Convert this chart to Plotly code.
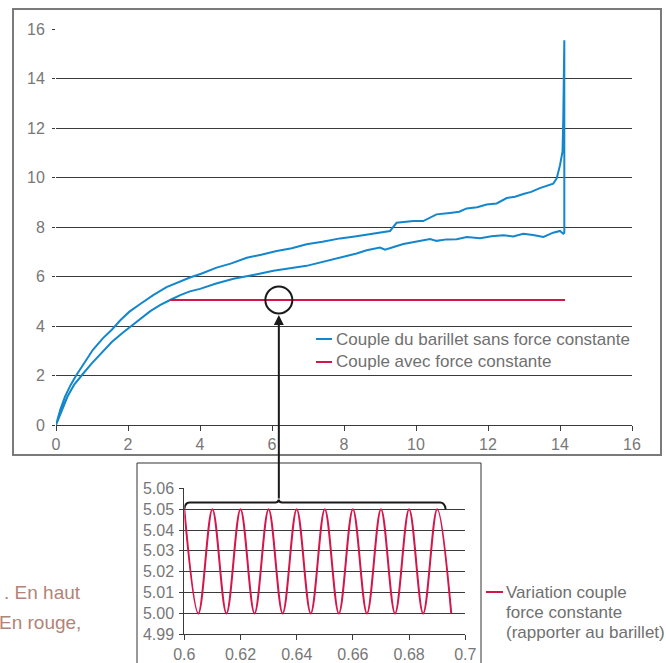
import plotly.graph_objects as go

W, H = 666, 663

# ---------------- data ----------------
upper_x = [0, 0.12, 0.25, 0.40, 0.56, 0.78, 1.02, 1.30, 1.55, 1.80, 2.04, 2.35, 2.70, 3.07, 3.40, 3.72,
           4.05, 4.46, 4.85, 5.30, 5.70, 6.13, 6.55, 6.96, 7.40, 7.89, 8.30, 8.72, 9.00, 9.28, 9.46,
           9.70, 9.93, 10.20, 10.57, 10.94, 11.20, 11.41, 11.70, 11.96, 12.24, 12.52, 12.75, 12.98,
           13.20, 13.44, 13.65, 13.81, 13.91, 14.00, 14.07, 14.09]
upper_y = [0, 0.62, 1.15, 1.60, 2.00, 2.50, 3.03, 3.50, 3.85, 4.25, 4.58, 4.90, 5.25, 5.57, 5.78, 5.96,
           6.12, 6.36, 6.52, 6.76, 6.88, 7.03, 7.14, 7.30, 7.40, 7.54, 7.62, 7.71, 7.76, 7.84, 8.17,
           8.20, 8.24, 8.24, 8.51, 8.57, 8.62, 8.75, 8.80, 8.91, 8.95, 9.17, 9.22, 9.33, 9.42, 9.57,
           9.66, 9.75, 9.97, 10.50, 11.04, 12.30]

spike_x = [14.12, 14.12]
spike_y = [15.55, 7.77]

lower_x = [0, 0.15, 0.32, 0.50, 0.71, 1.00, 1.25, 1.55, 1.87, 2.08, 2.35, 2.62, 2.90, 3.17, 3.45, 3.72,
           4.00, 4.45, 4.93, 5.11, 5.55, 6.04, 6.50, 6.96, 7.43, 7.75, 8.07, 8.35, 8.63, 9.00, 9.14,
           9.40, 9.65, 10.00, 10.39, 10.57, 10.85, 11.13, 11.41, 11.78, 12.10, 12.43, 12.70, 12.98,
           13.25, 13.54, 13.81, 14.00, 14.09]
lower_y = [0, 0.55, 1.15, 1.62, 2.00, 2.50, 2.90, 3.35, 3.75, 4.00, 4.30, 4.60, 4.85, 5.05, 5.25, 5.40,
           5.50, 5.72, 5.91, 5.96, 6.08, 6.23, 6.33, 6.43, 6.59, 6.70, 6.83, 6.93, 7.06, 7.17, 7.08,
           7.20, 7.31, 7.40, 7.51, 7.44, 7.50, 7.51, 7.60, 7.55, 7.63, 7.67, 7.62, 7.73, 7.68,
           7.60, 7.77, 7.84, 7.73]

const_x = [3.17, 14.14]
const_y = [5.05, 5.05]

inset_x = [0.600, 0.605, 0.610, 0.615, 0.620, 0.625, 0.630, 0.635, 0.640, 0.645,
           0.650, 0.655, 0.660, 0.665, 0.670, 0.675, 0.680, 0.685, 0.690, 0.695]
inset_y = [5.05, 5.00, 5.05, 5.00, 5.05, 5.00, 5.05, 5.00, 5.05, 5.00,
           5.05, 5.00, 5.05, 5.00, 5.05, 5.00, 5.05, 5.00, 5.05, 5.00]

main_ticks = [0, 2, 4, 6, 8, 10, 12, 14, 16]
inset_xticks = [0.6, 0.62, 0.64, 0.66, 0.68, 0.7]
inset_xticklabels = ["0.6", "0.62", "0.64", "0.66", "0.68", "0.7"]
inset_yticks = [4.99, 5.00, 5.01, 5.02, 5.03, 5.04, 5.05, 5.06]
inset_yticklabels = ["4.99", "5.00", "5.01", "5.02", "5.03", "5.04", "5.05", "5.06"]

legend_main = ["Couple du barillet sans force constante", "Couple avec force constante"]
legend_inset = ["Variation couple", "force constante", "(rapporter au barillet)"]
caption = [". En haut", "En rouge,"]

BLUE = "#1386cc"
RED = "#d4164a"
GRID = "#3a3a3a"
TXT = "#777777"
FONT = "Liberation Sans, Arial, sans-serif"


def X(px):
    return px / W


def Y(py):
    return 1 - py / H


fig = go.Figure()

fig.add_trace(go.Scatter(x=upper_x + spike_x + lower_x[::-1],
                         y=upper_y + spike_y + lower_y[::-1],
                         mode="lines", line=dict(color=BLUE, width=2),
                         xaxis="x", yaxis="y", showlegend=False, hoverinfo="skip"))
fig.add_trace(go.Scatter(x=const_x, y=const_y, mode="lines",
                         line=dict(color=RED, width=2),
                         xaxis="x", yaxis="y", showlegend=False, hoverinfo="skip"))
fig.add_trace(go.Scatter(x=inset_x, y=inset_y, mode="lines",
                         line=dict(color=RED, width=2, shape="spline", smoothing=1),
                         xaxis="x2", yaxis="y2", showlegend=False, hoverinfo="skip"))

axis_font = dict(family=FONT, size=16, color=TXT)

fig.update_layout(
    width=W, height=H, autosize=False,
    margin=dict(l=0, r=0, t=0, b=0, pad=0, autoexpand=False),
    paper_bgcolor="white", plot_bgcolor="white",
    font=dict(family=FONT, size=16, color=TXT),
    xaxis=dict(domain=[X(56), X(632)], range=[0, 16], tickvals=main_ticks,
               ticks="outside", ticklen=5, tickcolor=GRID, showline=True, linecolor=GRID,
               linewidth=1, showgrid=False, zeroline=False, tickfont=axis_font, fixedrange=True,
               automargin=False),
    yaxis=dict(domain=[Y(425), Y(29)], range=[0, 16], tickvals=main_ticks,
               ticks="outside", ticklen=3, tickcolor=GRID, showline=False,
               showgrid=True, gridcolor=GRID, gridwidth=1, zeroline=False,
               tickfont=axis_font, ticklabelstandoff=4, fixedrange=True, automargin=False),
    xaxis2=dict(domain=[X(184.3), X(465.3)], range=[0.6, 0.7], tickvals=inset_xticks,
                ticktext=inset_xticklabels, anchor="y2",
                ticks="outside", ticklen=5, tickcolor=GRID, showline=True, linecolor=GRID,
                showgrid=False, zeroline=False, tickfont=axis_font, fixedrange=True,
                automargin=False),
    yaxis2=dict(domain=[Y(634.3), Y(488.3)], range=[4.99, 5.06], tickvals=inset_yticks,
                ticktext=inset_yticklabels, anchor="x2",
                ticks="outside", ticklen=4, tickcolor=GRID, showline=True, linecolor=GRID,
                showgrid=True, gridcolor=GRID, gridwidth=1, zeroline=False,
                tickfont=axis_font, ticklabelstandoff=2, fixedrange=True, automargin=False),
)

shapes = []
# main frame
shapes.append(dict(type="rect", xref="paper", yref="paper", x0=X(13), x1=X(661), y0=Y(455), y1=Y(9),
                   line=dict(color="#7a7a7a", width=2), layer="below"))
# inset frame (runs off the bottom)
shapes.append(dict(type="rect", xref="paper", yref="paper", x0=X(137), x1=X(481), y0=Y(670), y1=Y(463),
                   line=dict(color="#333333", width=1), layer="below"))
# circle around the constant-force line
shapes.append(dict(type="circle", xref="x", yref="y", x0=6.19 - 0.375, x1=6.19 + 0.375,
                   y0=5.05 - 0.545, y1=5.05 + 0.545, line=dict(color="#1a1a1a", width=2)))
# curly bracket over the inset curve
tip = 0.6336
path = ("M 0.6000,5.0500 Q 0.6002,5.0532 0.6020,5.0532 "
        f"L {tip - 0.0012:.4f},5.0532 Q {tip - 0.0002:.4f},5.0532 {tip:.4f},5.0545 "
        f"Q {tip + 0.0002:.4f},5.0532 {tip + 0.0012:.4f},5.0532 "
        "L 0.6910,5.0532 Q 0.6927,5.0532 0.6930,5.0500")
shapes.append(dict(type="path", xref="x2", yref="y2", path=path,
                   line=dict(color="#1a1a1a", width=2)))
# legend samples
shapes.append(dict(type="line", xref="paper", yref="paper", x0=X(316), x1=X(332), y0=Y(339), y1=Y(339),
                   line=dict(color=BLUE, width=2)))
shapes.append(dict(type="line", xref="paper", yref="paper", x0=X(316), x1=X(332), y0=Y(362), y1=Y(362),
                   line=dict(color=RED, width=2)))
shapes.append(dict(type="line", xref="paper", yref="paper", x0=X(486), x1=X(503), y0=Y(592), y1=Y(592),
                   line=dict(color=RED, width=2)))
fig.update_layout(shapes=shapes)

ann = []
# arrow from bracket tip to the circle
ann.append(dict(xref="x", yref="y", x=6.19, y=4.44, ax=0, ay=185, axref="pixel", ayref="pixel",
                text="", showarrow=True, arrowhead=2, arrowsize=1, arrowwidth=2, arrowcolor="#1a1a1a"))
ann.append(dict(xref="paper", yref="paper", x=X(334), y=Y(339), xanchor="left", yanchor="middle",
                text=legend_main[0], showarrow=False, font=dict(family=FONT, size=17, color="#707070")))
ann.append(dict(xref="paper", yref="paper", x=X(334), y=Y(362), xanchor="left", yanchor="middle",
                text=legend_main[1], showarrow=False, font=dict(family=FONT, size=17, color="#707070")))
for txt, yy in zip(legend_inset, [592, 612, 632]):
    ann.append(dict(xref="paper", yref="paper", x=X(504), y=Y(yy), xanchor="left", yanchor="middle",
                    text=txt, showarrow=False, font=dict(family=FONT, size=17, color="#707070")))
for txt, yy in zip(caption, [592, 622]):
    ann.append(dict(xref="paper", yref="paper", x=X(83), y=Y(yy), xanchor="right", yanchor="middle",
                    text=txt, showarrow=False, font=dict(family=FONT, size=19, color="#b38378")))
fig.update_layout(annotations=ann)

fig.write_html("out.html", config={"displayModeBar": False},
               post_script="document.body.style.margin='0';document.body.style.overflow='hidden';")
